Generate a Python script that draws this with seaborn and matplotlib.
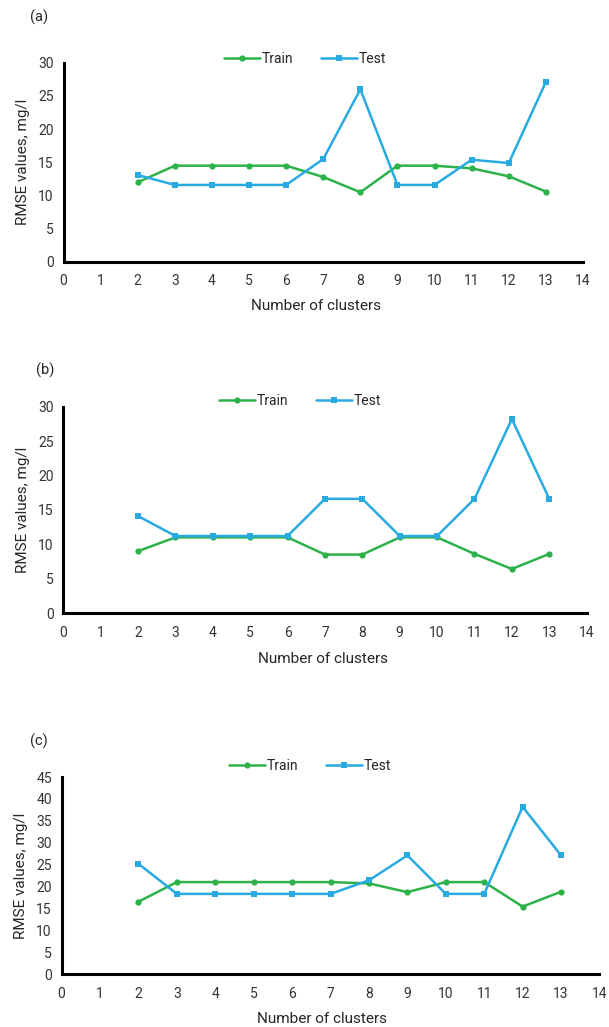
import matplotlib
matplotlib.use("Agg")
import matplotlib.pyplot as plt
import seaborn as sns
import pandas as pd

sns.set_theme(style="white")
plt.rcParams["font.family"] = ["Roboto", "DejaVu Sans"]

clusters = [2, 3, 4, 5, 6, 7, 8, 9, 10, 11, 12, 13]

train_a = [12.0, 14.5, 14.5, 14.5, 14.5, 12.8, 10.5, 14.5, 14.5, 14.1, 12.9, 10.6]
test_a = [13.1, 11.6, 11.6, 11.6, 11.6, 15.5, 26.0, 11.6, 11.6, 15.4, 14.9, 27.1]

train_b = [9.0, 11.0, 11.0, 11.0, 11.0, 8.5, 8.5, 11.0, 11.0, 8.6, 6.4, 8.6]
test_b = [14.1, 11.2, 11.2, 11.2, 11.2, 16.6, 16.6, 11.2, 11.2, 16.6, 28.2, 16.6]

train_c = [16.5, 21.0, 21.0, 21.0, 21.0, 21.0, 20.7, 18.7, 21.0, 21.0, 15.4, 18.8]
test_c = [25.2, 18.3, 18.3, 18.3, 18.3, 18.3, 21.4, 27.1, 18.3, 18.3, 38.2, 27.1]

panel_labels = ["(a)", "(b)", "(c)"]
y_maxes = [30, 30, 45]
x_ticks = list(range(0, 15))

GREEN = "#2db24a"
BLUE = "#29abe2"
TEXT = "#262626"

fig = plt.figure(figsize=(6.09, 10.27), dpi=100)

# [left, bottom, width, height] in figure fractions
rects = [
    [0.1043, 0.7449, 0.8530, 0.1940],
    [0.1039, 0.4031, 0.8594, 0.2009],
    [0.1010, 0.0516, 0.8834, 0.1918],
]
legend_pos = [(305, 59), (300, 401), (310, 766)]
label_pos = [(30, 17), (36, 370), (30, 741)]
xlabel_pos = [(316, 306), (323, 659), (322, 1019)]

series = [(train_a, test_a), (train_b, test_b), (train_c, test_c)]

for i, (tr, te) in enumerate(series):
    ax = fig.add_axes(rects[i])
    df = pd.DataFrame({
        "clusters": clusters * 2,
        "rmse": tr + te,
        "set": ["Train"] * len(clusters) + ["Test"] * len(clusters),
    })
    sns.lineplot(
        data=df, x="clusters", y="rmse", hue="set", style="set",
        hue_order=["Train", "Test"], style_order=["Train", "Test"],
        palette={"Train": GREEN, "Test": BLUE},
        markers={"Train": "o", "Test": "s"}, dashes=False,
        markersize=4.5, markeredgewidth=0, linewidth=1.8, ax=ax,
        legend="auto",
    )
    ax.set_xlim(0, 14)
    ax.set_ylim(0, y_maxes[i])
    ax.set_xticks(x_ticks)
    ax.set_yticks(list(range(0, y_maxes[i] + 1, 5)))
    for s in ["top", "right"]:
        ax.spines[s].set_visible(False)
    for s in ["left", "bottom"]:
        ax.spines[s].set_color("black")
        ax.spines[s].set_linewidth(2.2)
    ax.tick_params(axis="both", direction="out", length=3, width=1.2,
                   color="black", labelsize=10, labelcolor="#333333", pad=4)
    ax.tick_params(axis="x", pad=6)
    ax.set_xlabel("")
    ax.set_ylabel("RMSE values, mg/l", fontsize=11, color=TEXT, labelpad=6)

    handles, labels = ax.get_legend_handles_labels()
    ax.get_legend().remove()
    fig.legend(
        handles, labels,
        loc="center",
        bbox_to_anchor=(legend_pos[i][0] / 609, 1 - legend_pos[i][1] / 1027),
        ncol=2, frameon=False, fontsize=10, handlelength=2.6,
        handletextpad=0.1, columnspacing=2.0, labelcolor=TEXT,
    )

    fig.text(label_pos[i][0] / 609, 1 - label_pos[i][1] / 1027, panel_labels[i],
             fontsize=10.5, color=TEXT, ha="left", va="center")
    fig.text(xlabel_pos[i][0] / 609, 1 - xlabel_pos[i][1] / 1027,
             "Number of clusters", fontsize=11, color=TEXT,
             ha="center", va="center")

fig.savefig("out.png", dpi=100)
